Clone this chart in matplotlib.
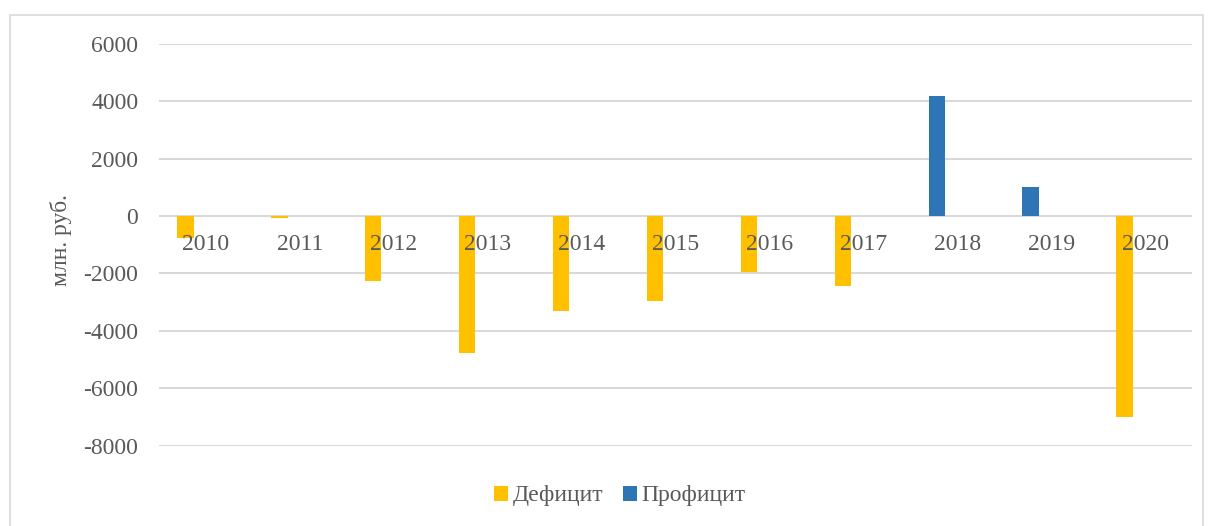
import matplotlib
matplotlib.use("Agg")
import matplotlib.pyplot as plt
from matplotlib.patches import Rectangle
import numpy as np

years = ["2010", "2011", "2012", "2013", "2014", "2015", "2016", "2017", "2018", "2019", "2020"]
deficit = [-750, -70, -2250, -4760, -3300, -2950, -1950, -2430, 0, 0, -7000]
surplus = [0, 0, 0, 0, 0, 0, 0, 0, 4200, 1000, 0]
yticks = [-8000, -6000, -4000, -2000, 0, 2000, 4000, 6000]

W, H = 1208, 526
plt.rcParams['font.family'] = ['Liberation Serif', 'DejaVu Serif']
fig = plt.figure(figsize=(W / 100, H / 100), dpi=100)

# outer chart border
fig.patches.append(Rectangle((10 / W, -0.01), (1203 - 10) / W, (H - 15) / H + 0.01,
                             transform=fig.transFigure, fill=False,
                             edgecolor='#D9D9D9', linewidth=1.2))

left, right, top, bottom = 159, 1192, 44, 445.5
ax = fig.add_axes([left / W, (H - bottom) / H, (right - left) / W, (bottom - top) / H])

x = np.arange(len(years))
bw = 0.174
off = -0.218
ax.bar(x + off, deficit, width=bw, color='#FFC000', label='Дефицит', zorder=3)
ax.bar(x + off, surplus, width=bw, color='#2E75B6', label='Профицит', zorder=3)

ax.set_xlim(-0.5, len(years) - 0.5)
ax.set_ylim(-8000, 6000)
ax.set_yticks(yticks)
ax.set_yticklabels([str(v) for v in yticks])
ax.yaxis.grid(True, color='#D9D9D9', linewidth=1.5, zorder=0)
ax.set_axisbelow(True)
for s in ax.spines.values():
    s.set_visible(False)
ax.tick_params(axis='y', length=0, pad=15, labelsize=17, labelcolor='#595959')
ax.set_xticks([])

for i, yr in enumerate(years):
    ax.annotate(yr, xy=(i, 0), xytext=(0, -28), textcoords='offset pixels',
                ha='center', va='center', fontsize=17, color='#595959', zorder=4)

fig.text(61 / W, 1 - 240 / H, 'млн. руб.', rotation=90, ha='center', va='center',
         fontsize=17, color='#595959')

handles, labels = ax.get_legend_handles_labels()
leg = fig.legend(handles, labels, loc='center', bbox_to_anchor=(620 / W, 1 - 496 / H),
                 ncol=2, frameon=False, fontsize=17, handlelength=0.6, handleheight=0.6,
                 handletextpad=0.18, columnspacing=0.85)
for t in leg.get_texts():
    t.set_color('#595959')

fig.savefig('out.png', dpi=100, facecolor='white')
